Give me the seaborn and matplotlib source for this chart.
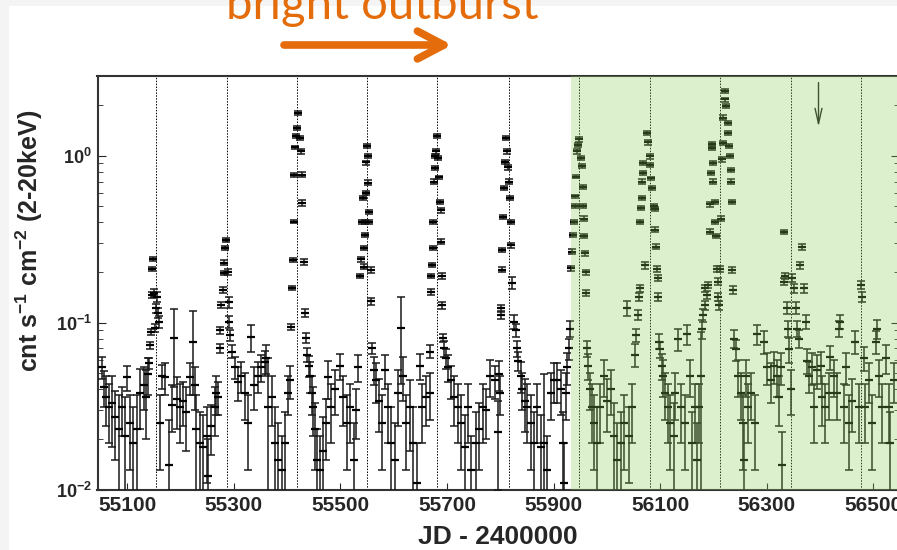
import pandas as pd
import seaborn as sns
import matplotlib.pyplot as plt
from matplotlib.patches import Rectangle, FancyArrowPatch

# --- light curve, white part (before the green band) ---
jd_a = [55053, 55056, 55061, 55066, 55072, 55078, 55084, 55090, 55097, 55100, 55106, 55112, 55119, 55125, 55131, 55136, 55139,
        55141, 55143, 55144, 55146, 55147, 55149, 55151, 55153, 55155, 55156, 55158, 55160,
        55162, 55166, 55172, 55178, 55184, 55188, 55193, 55199, 55205, 55211, 55218, 55224, 55227, 55230, 55236, 55243, 55249, 55252, 55258, 55264, 55267, 55270,
        55274, 55275, 55276, 55280, 55281, 55282, 55284, 55285, 55290, 55291, 55292, 55293, 55296,
        55302, 55308, 55314, 55321, 55327, 55333, 55339, 55346, 55352, 55358, 55361, 55365, 55371, 55377, 55383, 55390, 55396, 55402, 55405,
        55408, 55409, 55412, 55413, 55414, 55415, 55417, 55419, 55421, 55424, 55427, 55428, 55429, 55432,
        55434, 55436, 55438, 55442, 55443, 55446, 55449, 55453, 55457, 55462, 55468, 55474, 55477, 55483, 55490, 55499, 55505, 55512, 55518, 55525, 55530, 55533,
        55537, 55539, 55541, 55543, 55544, 55545, 55546, 55547, 55548, 55549, 55550, 55551, 55552, 55553, 55554, 55557, 55558, 55559,
        55564, 55567, 55573, 55578, 55584, 55590, 55596, 55602, 55609, 55614, 55618, 55624, 55630, 55637, 55643, 55649, 55654, 55661, 55668, 55669,
        55670, 55671, 55672, 55673, 55674, 55676, 55677, 55678, 55680, 55682, 55684, 55686, 55687, 55688, 55689, 55690, 55691, 55692,
        55695, 55698, 55702, 55708, 55714, 55720, 55727, 55733, 55739, 55746, 55755, 55761, 55768, 55774, 55780, 55790, 55795, 55798, 55799,
        55801, 55802, 55803, 55804, 55805, 55807, 55809, 55810, 55813, 55815, 55816, 55819, 55820, 55821, 55822, 55825,
        55830, 55832, 55834, 55838, 55841, 55846, 55851, 55857, 55863, 55869, 55876, 55882, 55888, 55895, 55901, 55907, 55914, 55917, 55920, 55923, 55926, 55929, 55931]
flux_a = [0.054, 0.041, 0.036, 0.031, 0.033, 0.027, 0.023, 0.031, 0.021, 0.047, 0.025, 0.019, 0.023, 0.038, 0.042, 0.036, 0.049,
          0.057, 0.073, 0.088, 0.21, 0.146, 0.24, 0.150, 0.093, 0.122, 0.143, 0.114, 0.101,
          0.025, 0.048, 0.047, 0.014, 0.032, 0.081, 0.035, 0.031, 0.034, 0.029, 0.047, 0.077, 0.042, 0.023, 0.019, 0.018, 0.021, 0.012, 0.024, 0.031, 0.038, 0.036,
          0.070, 0.090, 0.127, 0.157, 0.198, 0.229, 0.28, 0.313, 0.20, 0.133, 0.101, 0.084, 0.067,
          0.054, 0.044, 0.048, 0.038, 0.025, 0.082, 0.042, 0.048, 0.054, 0.058, 0.061, 0.031, 0.036, 0.019, 0.015, 0.013, 0.019, 0.038, 0.045,
          0.094, 0.161, 0.237, 0.403, 0.77, 1.12, 1.31, 1.47, 1.80, 1.28, 1.06, 0.77, 0.52, 0.232,
          0.114, 0.081, 0.064, 0.055, 0.048, 0.038, 0.031, 0.023, 0.015, 0.013, 0.017, 0.025, 0.047, 0.031, 0.040, 0.055, 0.036, 0.025, 0.031, 0.015, 0.030, 0.054,
          0.19, 0.24, 0.40, 0.56, 0.216, 0.28, 0.335, 0.40, 0.60, 0.91, 1.14, 1.0, 0.69, 0.40, 0.46, 0.207, 0.134, 0.070,
          0.052, 0.045, 0.034, 0.025, 0.052, 0.031, 0.019, 0.015, 0.038, 0.093, 0.048, 0.025, 0.031, 0.019, 0.011, 0.055, 0.031, 0.036, 0.038, 0.067,
          0.153, 0.19, 0.222, 0.28, 0.40, 0.70, 0.847, 1.0, 1.06, 1.31, 0.97, 0.74, 0.53, 0.47, 0.305, 0.19, 0.127, 0.081,
          0.070, 0.061, 0.054, 0.045, 0.036, 0.031, 0.025, 0.018, 0.031, 0.013, 0.019, 0.023, 0.031, 0.030, 0.048, 0.045, 0.022, 0.049, 0.038,
          0.122, 0.111, 0.207, 0.272, 0.43, 0.64, 0.92, 1.28, 1.06, 0.85, 0.70, 0.56, 0.40, 0.29, 0.173, 0.101,
          0.090, 0.070, 0.059, 0.048, 0.040, 0.034, 0.031, 0.025, 0.019, 0.031, 0.018, 0.019, 0.013, 0.038, 0.045, 0.045, 0.040, 0.019, 0.011, 0.038, 0.054, 0.070, 0.092]
err_a = [0.008, 0.010, 0.012, 0.012, 0.015, 0.012, 0.014, 0.010, 0.015, 0.008, 0.012, 0.012, 0.014, 0.015, 0.012, 0.016, 0.012,
         0.004, 0.004, 0.004, 0.006, 0.006, 0.006, 0.008, 0.005, 0.008, 0.010, 0.008, 0.008,
         0.012, 0.008, 0.010, 0.012, 0.010, 0.040, 0.012, 0.012, 0.010, 0.012, 0.010, 0.040, 0.012, 0.014, 0.010, 0.010, 0.010, 0.008, 0.008, 0.010, 0.010, 0.008,
         0.004, 0.004, 0.005, 0.006, 0.006, 0.007, 0.008, 0.010, 0.008, 0.010, 0.008, 0.006, 0.006,
         0.008, 0.010, 0.010, 0.012, 0.012, 0.015, 0.012, 0.010, 0.010, 0.010, 0.012, 0.030, 0.012, 0.012, 0.010, 0.008, 0.010, 0.010, 0.010,
         0.004, 0.005, 0.006, 0.010, 0.02, 0.03, 0.03, 0.04, 0.05, 0.04, 0.03, 0.03, 0.02, 0.010,
         0.006, 0.006, 0.006, 0.008, 0.010, 0.010, 0.010, 0.010, 0.008, 0.008, 0.010, 0.010, 0.012, 0.012, 0.012, 0.010, 0.012, 0.012, 0.012, 0.010, 0.010, 0.010,
         0.006, 0.008, 0.012, 0.015, 0.008, 0.008, 0.010, 0.012, 0.015, 0.025, 0.03, 0.03, 0.02, 0.012, 0.015, 0.008, 0.006, 0.005,
         0.010, 0.012, 0.012, 0.012, 0.012, 0.012, 0.012, 0.010, 0.014, 0.050, 0.014, 0.012, 0.014, 0.012, 0.008, 0.010, 0.012, 0.012, 0.012, 0.006,
         0.006, 0.006, 0.007, 0.008, 0.012, 0.02, 0.025, 0.03, 0.03, 0.04, 0.03, 0.02, 0.015, 0.015, 0.010, 0.008, 0.006, 0.005,
         0.008, 0.008, 0.010, 0.010, 0.012, 0.012, 0.012, 0.010, 0.012, 0.008, 0.010, 0.010, 0.012, 0.010, 0.012, 0.010, 0.012, 0.010, 0.010,
         0.006, 0.006, 0.007, 0.008, 0.012, 0.02, 0.025, 0.04, 0.03, 0.025, 0.02, 0.015, 0.012, 0.010, 0.015, 0.010,
         0.008, 0.008, 0.008, 0.010, 0.010, 0.012, 0.012, 0.012, 0.010, 0.012, 0.010, 0.030, 0.008, 0.012, 0.012, 0.012, 0.012, 0.010, 0.008, 0.012, 0.012, 0.010, 0.010]

# --- light curve, green part ---
jd_b = [55933, 55935, 55937, 55939, 55940, 55941, 55942, 55944, 55946, 55948, 55951, 55953, 55955, 55956, 55957, 55958, 55959, 55960, 55961,
        55962, 55965, 55969, 55972, 55975, 55982, 55988, 55994, 56000, 56007, 56013, 56019, 56026, 56032, 56038, 56041, 56047, 56053, 56055, 56058, 56061, 56062,
        56063, 56064, 56065, 56066, 56067, 56068, 56072, 56075, 56077, 56080, 56081, 56082, 56085, 56088, 56090, 56091, 56092, 56094, 56095, 56096,
        56098, 56100, 56103, 56106, 56109, 56114, 56119, 56125, 56128, 56134, 56140, 56147, 56150, 56156, 56159, 56165, 56169, 56172, 56177, 56178, 56181,
        56184, 56185, 56187, 56190, 56193, 56194, 56196, 56197, 56198, 56199, 56200, 56202, 56203, 56205, 56206, 56208, 56209, 56211,
        56213, 56215, 56216, 56217, 56218, 56221, 56222, 56224, 56227, 56228, 56230, 56231, 56232, 56233, 56234, 56235, 56236,
        56239, 56243, 56246, 56252, 56255, 56258, 56261, 56265, 56271, 56277, 56282, 56295, 56301, 56307, 56314, 56320, 56323, 56326, 56329,
        56332, 56333, 56335, 56338, 56339, 56341, 56345,
        56348, 56351, 56354, 56357, 56360, 56363, 56366, 56369, 56373, 56376, 56379,
        56385, 56388, 56394, 56401, 56404, 56410, 56416, 56419, 56426, 56432, 56435, 56438, 56444, 56448, 56454, 56460, 56466, 56473,
        56477, 56479, 56482, 56485, 56492, 56498, 56504, 56507, 56510, 56516, 56523, 56529, 56532, 56538]
flux_b = [0.211, 0.266, 0.335, 0.40, 0.50, 0.57, 0.75, 1.06, 1.16, 1.25, 0.97, 0.87, 0.65, 0.50, 0.42, 0.33, 0.26, 0.20, 0.15,
          0.070, 0.055, 0.040, 0.031, 0.025, 0.019, 0.031, 0.048, 0.034, 0.040, 0.021, 0.015, 0.019, 0.025, 0.122, 0.021, 0.031, 0.064, 0.084, 0.111, 0.143, 0.160,
          0.40, 0.485, 0.56, 0.70, 0.79, 0.90, 0.22, 1.37, 1.20, 0.99, 0.88, 0.73, 0.64, 0.50, 0.48, 0.36, 0.285, 0.21, 0.185, 0.143,
          0.077, 0.069, 0.055, 0.048, 0.038, 0.031, 0.025, 0.021, 0.038, 0.080, 0.031, 0.025, 0.085, 0.048, 0.019, 0.031, 0.015, 0.031, 0.048, 0.092, 0.111,
          0.127, 0.16, 0.146, 0.168, 0.35, 0.51, 0.79, 1.11, 1.18, 0.90, 0.70, 0.53, 0.40, 0.33, 0.21, 0.176, 0.143, 0.127,
          0.21, 0.42, 0.95, 1.19, 1.69, 2.17, 2.43, 1.98, 1.57, 1.37, 1.14, 1.0, 0.824, 0.70, 0.53, 0.207, 0.157,
          0.080, 0.069, 0.048, 0.038, 0.025, 0.015, 0.048, 0.031, 0.038, 0.025, 0.085, 0.077, 0.054, 0.045, 0.055, 0.048, 0.036, 0.054, 0.014,
          0.35, 0.176, 0.19, 0.122, 0.092, 0.069, 0.040,
          0.185, 0.16, 0.122, 0.092, 0.080, 0.22, 0.285, 0.16, 0.101, 0.059, 0.048,
          0.054, 0.031, 0.052, 0.055, 0.036, 0.031, 0.038, 0.062, 0.048, 0.038, 0.092, 0.101, 0.031, 0.054, 0.025, 0.034, 0.077, 0.031,
          0.168, 0.143, 0.061, 0.031, 0.045, 0.025, 0.077, 0.092, 0.048, 0.031, 0.061, 0.031, 0.019, 0.045]
err_b = [0.007, 0.008, 0.010, 0.012, 0.015, 0.015, 0.02, 0.03, 0.03, 0.04, 0.03, 0.025, 0.02, 0.015, 0.012, 0.010, 0.008, 0.007, 0.006,
         0.008, 0.010, 0.010, 0.012, 0.012, 0.012, 0.012, 0.012, 0.012, 0.012, 0.012, 0.010, 0.010, 0.012, 0.012, 0.010, 0.012, 0.010, 0.008, 0.008, 0.008, 0.008,
         0.012, 0.015, 0.015, 0.02, 0.02, 0.025, 0.010, 0.04, 0.035, 0.03, 0.025, 0.02, 0.02, 0.015, 0.015, 0.012, 0.010, 0.008, 0.008, 0.008,
         0.008, 0.008, 0.010, 0.012, 0.012, 0.012, 0.012, 0.012, 0.012, 0.012, 0.012, 0.012, 0.012, 0.012, 0.010, 0.012, 0.010, 0.012, 0.040, 0.012, 0.010,
         0.008, 0.008, 0.008, 0.008, 0.012, 0.015, 0.02, 0.03, 0.03, 0.025, 0.02, 0.015, 0.012, 0.010, 0.008, 0.008, 0.008, 0.008,
         0.008, 0.012, 0.03, 0.03, 0.05, 0.06, 0.07, 0.06, 0.05, 0.04, 0.03, 0.03, 0.025, 0.02, 0.015, 0.008, 0.008,
         0.010, 0.010, 0.012, 0.012, 0.012, 0.010, 0.012, 0.012, 0.012, 0.012, 0.012, 0.012, 0.012, 0.012, 0.012, 0.012, 0.012, 0.012, 0.008,
         0.010, 0.008, 0.008, 0.010, 0.010, 0.012, 0.012,
         0.010, 0.010, 0.010, 0.010, 0.010, 0.010, 0.012, 0.010, 0.010, 0.010, 0.010,
         0.012, 0.012, 0.012, 0.012, 0.012, 0.012, 0.012, 0.010, 0.012, 0.012, 0.010, 0.010, 0.012, 0.012, 0.012, 0.012, 0.012, 0.012,
         0.010, 0.010, 0.010, 0.012, 0.012, 0.012, 0.012, 0.012, 0.012, 0.012, 0.012, 0.012, 0.010, 0.012]

# predicted outburst epochs (dotted lines) and the green interval
outburst_jd = [55154, 55287, 55419, 55550, 55682, 55816, 55948, 56080, 56212, 56345, 56477]
green_start = 55933
arrow_jd = 56397
xticks = [55100, 55300, 55500, 55700, 55900, 56100, 56300, 56500]

df = pd.DataFrame({'jd': jd_a + jd_b, 'flux': flux_a + flux_b, 'err': err_a + err_b})

sns.set_style('ticks')
plt.rcParams['font.family'] = ['Liberation Sans', 'DejaVu Sans']
plt.rcParams['font.weight'] = 'bold'
plt.rcParams['mathtext.fontset'] = 'custom'
plt.rcParams['mathtext.rm'] = 'Liberation Sans:bold'
plt.rcParams['mathtext.bf'] = 'Liberation Sans:bold'
plt.rcParams['mathtext.it'] = 'Liberation Sans:bold'
plt.rcParams['mathtext.default'] = 'bf'

W, H = 897, 550
fig = plt.figure(figsize=(W / 100, H / 100), dpi=100, facecolor='#f4f4f4')
fig.add_artist(Rectangle((9 / W, 0), 1, 1 - 6 / H, transform=fig.transFigure,
                         facecolor='white', edgecolor='none', zorder=-1))

ax = fig.add_axes([97.5 / W, 1 - 489.5 / H, (899 - 97.5) / W, (489.5 - 76) / H])

for t in outburst_jd:
    ax.axvline(t, color='black', ls=(0, (1.5, 1.5)), lw=0.7, zorder=2)

ax.errorbar(df['jd'], df['flux'], yerr=df['err'], fmt='none', ecolor='#1a1a1a',
            elinewidth=1.1, capsize=3, capthick=1.1, zorder=3)
sns.scatterplot(data=df, x='jd', y='flux', marker='_', s=30, color='black',
                linewidth=1.6, ax=ax, zorder=4, legend=False)

ax.annotate('', xy=(arrow_jd, 1.49), xytext=(arrow_jd, 2.74),
            arrowprops=dict(arrowstyle='->,head_length=1.1,head_width=0.25',
                            lw=1.0, color='#222222', shrinkA=0, shrinkB=0), zorder=5)

ax.axvspan(green_start, 56600, color=(0.55, 0.80, 0.35), alpha=0.29, lw=0, zorder=6)

ax.set_yscale('log')
ax.set_ylim(0.01, 3.0)
ax.set_xlim(55044.5, 56548)
ax.set_xticks(xticks)
ax.tick_params(axis='both', which='both', direction='in', right=True, top=False)
ax.tick_params(axis='y', which='major', length=6, labelsize=13, pad=4)
ax.tick_params(axis='y', which='minor', length=3.5)
ax.tick_params(axis='x', which='major', length=5, labelsize=15, pad=5)
for s in ax.spines.values():
    s.set_linewidth(1.5)
    s.set_color('#333333')

ax.set_xlabel('JD - 2400000', fontsize=19, fontweight='bold')
ax.set_ylabel(r'cnt s$^{-1}$ cm$^{-2}$ (2-20keV)', fontsize=18, fontweight='bold')
ax.xaxis.set_label_coords(0.5, -0.085)
ax.yaxis.set_label_coords(-0.066, 0.6)

orange = '#e46c0a'
fig.text(382 / W, 1 - 19 / H, 'bright outburst', fontsize=34, family='Lato',
         fontweight='normal', color=orange, ha='center', va='baseline')
fig.add_artist(FancyArrowPatch((284 / W, 1 - 45 / H), (452 / W, 1 - 45 / H),
                               transform=fig.transFigure, mutation_scale=10,
                               arrowstyle='->,head_length=1.9,head_width=1.0',
                               lw=5.5, color=orange, shrinkA=0, shrinkB=0,
                               capstyle='round', joinstyle='round'))

fig.savefig('out.png', dpi=100, facecolor=fig.get_facecolor())
